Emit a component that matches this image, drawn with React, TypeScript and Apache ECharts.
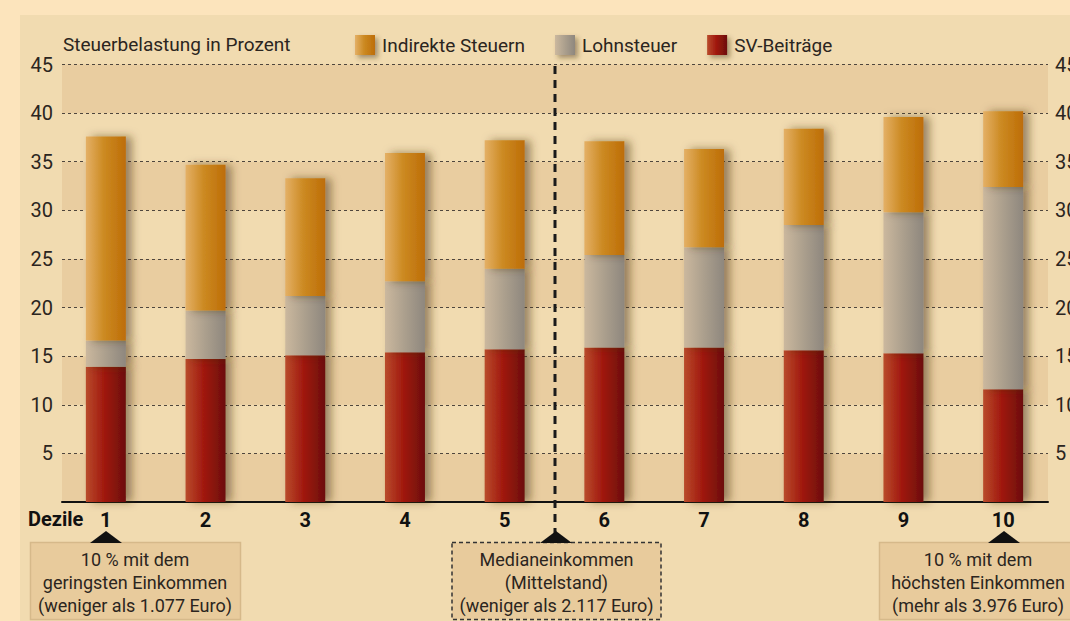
import React, { useEffect, useRef } from "react";
import * as echarts from "echarts";

const categories = ["1", "2", "3", "4", "5", "6", "7", "8", "9", "10"];
const svBeitraege = [13.9, 14.7, 15.1, 15.4, 15.7, 15.9, 15.9, 15.6, 15.3, 11.6];
const lohnsteuer = [2.7, 5.0, 6.1, 7.3, 8.3, 9.5, 10.3, 12.9, 14.5, 20.8];
const indirekteSteuern = [21.0, 15.0, 12.1, 13.2, 13.2, 11.7, 10.1, 9.9, 9.8, 7.8];
const seriesNames = ["Indirekte Steuern", "Lohnsteuer", "SV-Beiträge"];
const yAxisTitle = "Steuerbelastung in Prozent";
const xAxisTitle = "Dezile";
const boxLow = "10 % mit dem\ngeringsten Einkommen\n(weniger als 1.077 Euro)";
const boxMedian = "Medianeinkommen\n(Mittelstand)\n(weniger als 2.117 Euro)";
const boxHigh = "10 % mit dem\nhöchsten Einkommen\n(mehr als 3.976 Euro)";

const FONT = "Roboto, sans-serif";
const TXT = "#2b2520";

function grad(stops: [number, string][]) {
  return new echarts.graphic.LinearGradient(
    0, 0, 1, 0,
    stops.map(([offset, color]) => ({ offset, color }))
  );
}

export default function App() {
  const ref = useRef<HTMLDivElement>(null);
  useEffect(() => {
    if (!ref.current) return;
    const chart = echarts.init(ref.current, null, { renderer: "svg" });
    const shadow = {
      shadowColor: "rgba(70,50,20,0.5)",
      shadowBlur: 9,
      shadowOffsetX: 6,
      shadowOffsetY: 0,
    };
    const cInd = grad([[0, "#e4b066"], [0.45, "#cc8a22"], [1, "#bd6d07"]]);
    const cLohn = grad([[0, "#cbb89e"], [0.5, "#ab9f8d"], [1, "#8e877e"]]);
    const cSV = grad([[0, "#b94b2b"], [0.45, "#a1190f"], [1, "#6c0e0c"]]);
    const gridTop = 64.5;
    const gridHeight = 437.5;
    const option: any = {
      animation: false,
      backgroundColor: "#f1dbb0",
      textStyle: { fontFamily: FONT },
      title: {
        text: yAxisTitle,
        left: 63,
        top: 35,
        padding: 0,
        textStyle: { fontSize: 19, fontWeight: "normal", color: TXT, fontFamily: FONT },
      },
      legend: {
        data: seriesNames,
        left: 355,
        top: 35,
        padding: 0,
        itemWidth: 20,
        itemHeight: 20,
        itemGap: 30,
        icon: "rect",
        selectedMode: false,
        itemStyle: { shadowColor: "rgba(70,50,20,0.45)", shadowBlur: 5, shadowOffsetX: 3, shadowOffsetY: 3 },
        textStyle: { fontSize: 19, color: TXT, fontFamily: FONT, padding: [0, 0, 0, 2] },
      },
      grid: [
        { left: 62, right: 22, top: gridTop, height: gridHeight, containLabel: false, outerBoundsMode: "none" },
        { left: 56, right: 17, top: gridTop, height: gridHeight, containLabel: false, outerBoundsMode: "none" },
      ],
      xAxis: [
        {
          gridIndex: 0,
          type: "value",
          min: 0,
          max: 1,
          axisLine: { show: true, onZero: false, lineStyle: { color: "#111", width: 2 } },
          axisTick: { show: false },
          axisLabel: { show: false },
          splitLine: { show: false },
        },
        {
          gridIndex: 1,
          type: "category",
          data: categories,
          axisLine: { show: false },
          axisTick: { show: false },
          axisLabel: { margin: 8, fontSize: 20, fontWeight: "bold", color: "#111", fontFamily: FONT },
        },
      ],
      yAxis: [
        {
          gridIndex: 0,
          type: "value",
          min: 0,
          max: 45,
          interval: 5,
          position: "left",
          axisLine: { show: false },
          axisTick: { show: false },
          axisLabel: {
            margin: 9,
            fontSize: 20,
            color: TXT,
            fontFamily: FONT,
            formatter: (v: number) => (v === 0 ? "" : String(v)),
          },
          splitLine: { show: true, lineStyle: { color: "#4f463d", type: [3, 3], width: 1 } },
          splitArea: { show: true, areaStyle: { color: ["#e9cda0", "#f1dbb0"] } },
        },
        {
          gridIndex: 0,
          type: "value",
          min: 0,
          max: 45,
          interval: 5,
          position: "right",
          axisLine: { show: false },
          axisTick: { show: false },
          axisLabel: {
            margin: 7,
            fontSize: 20,
            color: TXT,
            fontFamily: FONT,
            formatter: (v: number) => (v === 0 ? "" : String(v)),
          },
          splitLine: { show: false },
        },
        {
          gridIndex: 1,
          type: "value",
          min: 0,
          max: 45,
          show: false,
        },
      ],
      series: [
        {
          name: seriesNames[2],
          type: "bar",
          stack: "total",
          xAxisIndex: 1,
          yAxisIndex: 2,
          barWidth: 40,
          data: svBeitraege,
          itemStyle: { color: cSV, ...shadow },
        },
        {
          name: seriesNames[1],
          type: "bar",
          stack: "total",
          xAxisIndex: 1,
          yAxisIndex: 2,
          barWidth: 40,
          data: lohnsteuer,
          itemStyle: { color: cLohn, ...shadow },
        },
        {
          name: seriesNames[0],
          type: "bar",
          stack: "total",
          xAxisIndex: 1,
          yAxisIndex: 2,
          barWidth: 40,
          data: indirekteSteuern,
          itemStyle: { color: cInd, ...shadow },
        },
      ],
      graphic: [
        { type: "rect", silent: true, z: 50, shape: { x: 0, y: 0, width: 20, height: 621 }, style: { fill: "#fce4bc" } },
        { type: "rect", silent: true, z: 50, shape: { x: 0, y: 0, width: 1070, height: 15 }, style: { fill: "#fce4bc" } },
        {
          type: "line",
          silent: true,
          z: 60,
          shape: { x1: 555, y1: 66, x2: 555, y2: 540 },
          style: { stroke: "#1a1a1a", lineWidth: 3, lineDash: [8, 6] },
        },
        { type: "text", silent: true, z: 60, x: 28, y: 519, style: { text: xAxisTitle, fill: "#111", font: `bold 20px ${FONT}`, textVerticalAlign: "middle" } },
        { type: "polygon", silent: true, z: 60, shape: { points: [[90, 543], [106, 531], [122, 543]] }, style: { fill: "#111" } },
        { type: "polygon", silent: true, z: 60, shape: { points: [[540, 543], [556, 531], [572, 543]] }, style: { fill: "#111" } },
        { type: "polygon", silent: true, z: 60, shape: { points: [[988, 543], [1004, 531], [1020, 543]] }, style: { fill: "#111" } },
        { type: "rect", silent: true, z: 55, shape: { x: 30.5, y: 542.5, width: 210, height: 77 }, style: { fill: "#e8cb9c", stroke: "#d6b98a", lineWidth: 1.5 } },
        { type: "rect", silent: true, z: 55, shape: { x: 452, y: 542.5, width: 209, height: 77 }, style: { fill: "#e8cb9c", stroke: "#333", lineWidth: 1.5, lineDash: [4, 3] } },
        { type: "rect", silent: true, z: 55, shape: { x: 879.5, y: 542.5, width: 192, height: 77 }, style: { fill: "#e8cb9c", stroke: "#d6b98a", lineWidth: 1.5 } },
        { type: "text", silent: true, z: 60, x: 135, y: 548, style: { text: boxLow, fill: TXT, font: `18px ${FONT}`, lineHeight: 23, textAlign: "center", textVerticalAlign: "top" } },
        { type: "text", silent: true, z: 60, x: 556.5, y: 548, style: { text: boxMedian, fill: TXT, font: `18px ${FONT}`, lineHeight: 23, textAlign: "center", textVerticalAlign: "top" } },
        { type: "text", silent: true, z: 60, x: 978, y: 548, style: { text: boxHigh, fill: TXT, font: `18px ${FONT}`, lineHeight: 23, textAlign: "center", textVerticalAlign: "top" } },
      ],
    };
    chart.setOption(option);
    return () => chart.dispose();
  }, []);
  return (
    <div
      ref={ref}
      style={{ position: "absolute", left: 0, top: 0, width: 1070, height: 621 }}
    />
  );
}
